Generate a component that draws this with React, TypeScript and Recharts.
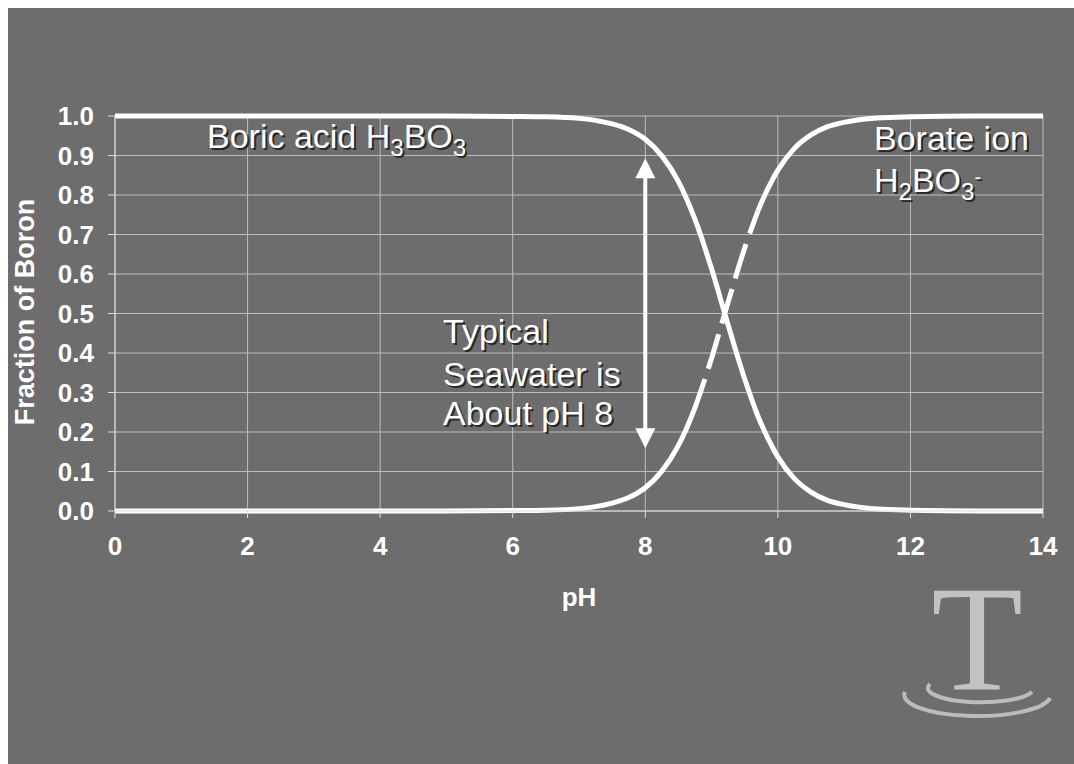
import React from "react";
import {
  LineChart,
  Line,
  XAxis,
  YAxis,
  CartesianGrid,
  ReferenceLine,
} from "recharts";

// pH values (x)
const pHValues = [
  0, 1, 2, 3, 4, 5, 6, 6.5, 7, 7.25, 7.5, 7.75, 8, 8.25, 8.5, 8.75, 8.9, 9,
  9.25, 9.5, 9.7, 9.75, 10, 10.25, 10.5, 10.75, 11, 11.5, 12, 13, 14,
];
// Fraction of boron as boric acid H3BO3
const boricAcid = [
  1, 1, 1, 1, 1, 1, 0.999, 0.998, 0.994, 0.989, 0.98, 0.966, 0.941, 0.899,
  0.834, 0.738, 0.666, 0.613, 0.471, 0.334, 0.24, 0.22, 0.137, 0.082, 0.048,
  0.027, 0.016, 0.005, 0.002, 0, 0,
];
// Fraction of boron as borate ion H2BO3-
const borateIon = [
  0, 0, 0, 0, 0, 0, 0.001, 0.002, 0.006, 0.011, 0.02, 0.034, 0.059, 0.101,
  0.166, 0.262, 0.334, 0.387, 0.529, 0.666, 0.76, 0.78, 0.863, 0.918, 0.952,
  0.973, 0.984, 0.995, 0.998, 1, 1,
];
// range of the borate curve drawn dashed
const borateDashedRange = [8.9, 9.7];

const xTicks = [0, 2, 4, 6, 8, 10, 12, 14];
const yTicks = [0, 0.1, 0.2, 0.3, 0.4, 0.5, 0.6, 0.7, 0.8, 0.9, 1.0];

// seawater arrow (pH, fraction)
const arrowPH = 8;
const arrowTop = 0.893;
const arrowBottom = 0.159;

const data = pHValues.map((p, i) => {
  const inDash = p >= borateDashedRange[0] && p <= borateDashedRange[1];
  const solid = p <= borateDashedRange[0] || p >= borateDashedRange[1];
  return {
    pH: p,
    acid: boricAcid[i],
    borateSolid: solid ? borateIon[i] : null,
    borateDash: inDash ? borateIon[i] : null,
  };
});

const FONT = '"Liberation Sans", Arial, sans-serif';
const BG = "#6d6d6d";

const ArrowShape = (props: any) => {
  const { x1, y1, x2, y2 } = props;
  const top = Math.min(y1, y2);
  const bot = Math.max(y1, y2);
  const x = x1;
  const head = 20;
  const hw = 10;
  return (
    <g>
      <line x1={x} y1={top + head - 2} x2={x} y2={bot - head + 2} stroke="#ffffff" strokeWidth={4} />
      <polygon points={`${x},${top} ${x - hw},${top + head} ${x + hw},${top + head}`} fill="#ffffff" />
      <polygon points={`${x},${bot} ${x - hw},${bot - head} ${x + hw},${bot - head}`} fill="#ffffff" />
    </g>
  );
};

const ShadowText = ({ x, y, children, size = 34 }: any) => (
  <g fontFamily={FONT} fontSize={size}>
    <text x={x + 2} y={y + 2} fill="#2a2a2a">
      {children}
    </text>
    <text x={x} y={y} fill="#ffffff">
      {children}
    </text>
  </g>
);

export default function App() {
  const W = 1066;
  const H = 756;
  return (
    <div
      style={{
        position: "fixed",
        left: 8,
        top: 8,
        width: W,
        height: H,
        background: BG,
        overflow: "hidden",
      }}
    >
      <LineChart
        width={W}
        height={H}
        data={data}
        margin={{ top: 108, right: 31, bottom: 143, left: 17 }}
      >
        <CartesianGrid stroke="#bdbdbd" strokeWidth={1} />
        <XAxis
          dataKey="pH"
          type="number"
          domain={[0, 14]}
          ticks={xTicks}
          height={110}
          tickSize={7}
          tickMargin={19}
          stroke="#dddddd"
          tick={{ fill: "#ffffff", fontSize: 26, fontWeight: 700, fontFamily: FONT }}
          label={{
            value: "pH",
            position: "insideBottom",
            offset: 15,
            fill: "#ffffff",
            fontSize: 26,
            fontWeight: 700,
            fontFamily: FONT,
          }}
        />
        <YAxis
          type="number"
          domain={[0, 1]}
          ticks={yTicks}
          width={90}
          tickSize={7}
          tickMargin={14}
          stroke="#dddddd"
          tickFormatter={(v: number) => v.toFixed(1)}
          tick={{ fill: "#ffffff", fontSize: 26, fontWeight: 700, fontFamily: FONT }}
        />
        <Line
          dataKey="acid"
          type="monotone"
          stroke="#ffffff"
          strokeWidth={5}
          dot={false}
          isAnimationActive={false}
        />
        <Line
          dataKey="borateSolid"
          type="monotone"
          stroke="#ffffff"
          strokeWidth={5}
          dot={false}
          connectNulls={false}
          isAnimationActive={false}
        />
        <Line
          dataKey="borateDash"
          type="monotone"
          stroke="#ffffff"
          strokeWidth={5}
          strokeDasharray="0 11 36 0"
          dot={false}
          connectNulls={false}
          isAnimationActive={false}
        />
        <ReferenceLine
          segment={[
            { x: arrowPH, y: arrowTop },
            { x: arrowPH, y: arrowBottom },
          ]}
          shape={ArrowShape}
          ifOverflow="visible"
        />
      </LineChart>

      <svg
        width={W}
        height={H}
        style={{ position: "absolute", left: 0, top: 0, pointerEvents: "none" }}
      >
        {/* y-axis title */}
        <g transform="translate(26, 304) rotate(-90)">
          <text
            x={0}
            y={0}
            textAnchor="middle"
            fill="#ffffff"
            fontFamily={FONT}
            fontSize={27}
            fontWeight={700}
          >
            Fraction of Boron
          </text>
        </g>

        <ShadowText x={199} y={140}>
          Boric acid H<tspan dy={8} fontSize={24}>3</tspan>
          <tspan dy={-8}>BO</tspan>
          <tspan dy={8} fontSize={24}>3</tspan>
        </ShadowText>

        <ShadowText x={866} y={142}>Borate ion</ShadowText>
        <ShadowText x={866} y={184}>
          H<tspan dy={8} fontSize={24}>2</tspan>
          <tspan dy={-8}>BO</tspan>
          <tspan dy={8} fontSize={24}>3</tspan>
          <tspan dy={-16} fontSize={20}>-</tspan>
        </ShadowText>

        <ShadowText x={435} y={335}>Typical</ShadowText>
        <ShadowText x={435} y={378}>Seawater is</ShadowText>
        <ShadowText x={435} y={417}>About pH 8</ShadowText>

        {/* logo */}
        <text
          x={969}
          y={681}
          textAnchor="middle"
          fill="#c2c2c2"
          fontFamily='"Liberation Serif", "DejaVu Serif", serif'
          fontSize={150}
        >
          T
        </text>
        <path d="M 897 684 A 73 21 0 0 0 1042 690" fill="none" stroke="#bcbcbc" strokeWidth={4} />
        <path d="M 922 676 A 52 14 0 0 0 1024 684" fill="none" stroke="#bcbcbc" strokeWidth={4} />
      </svg>
    </div>
  );
}
